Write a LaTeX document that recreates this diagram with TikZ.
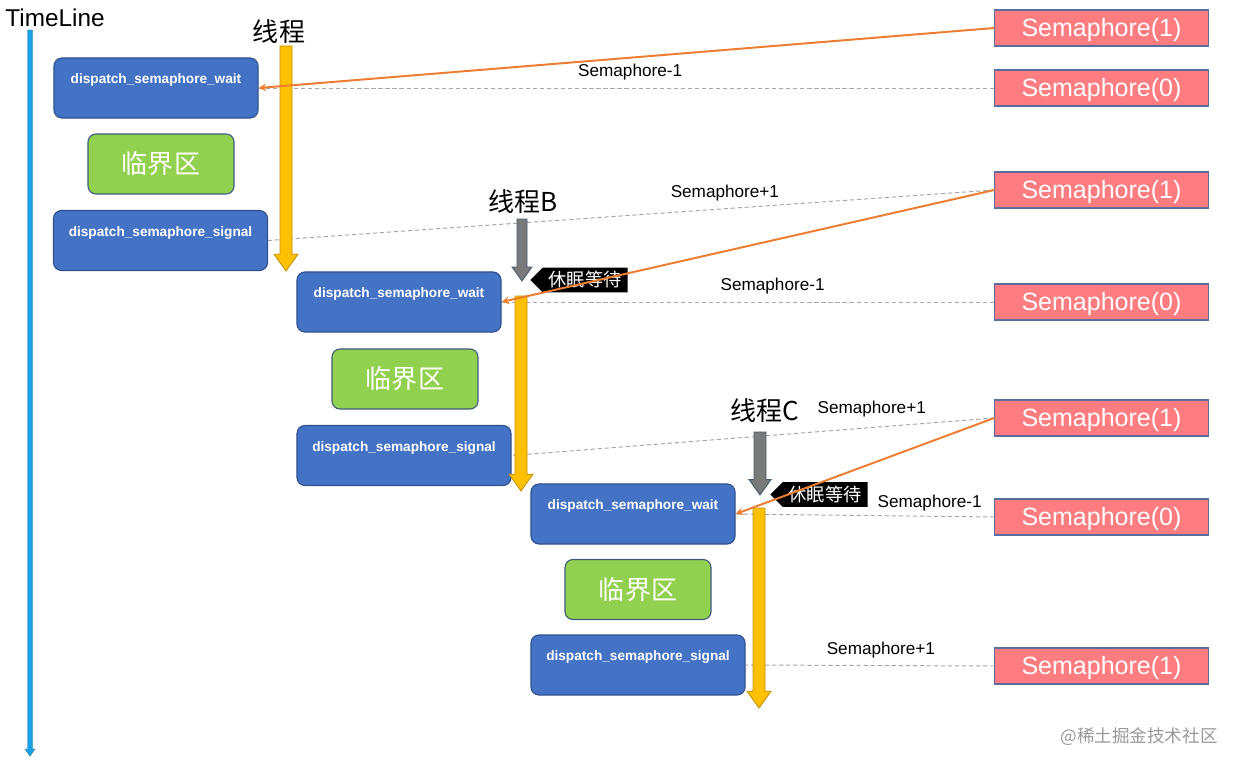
\documentclass[tikz,border=0pt]{standalone}
\usepackage{fontspec}
\setmainfont{Liberation Sans}
\newfontfamily\cjk{Noto Sans CJK SC}
\usepackage{tikz}
\usetikzlibrary{shapes, shapes.symbols, arrows}
\definecolor{callblue}{HTML}{4472C4}
\definecolor{calledge}{HTML}{2F528F}
\definecolor{critgreen}{HTML}{92D050}
\definecolor{critedge}{HTML}{3E5C7A}
\definecolor{semred}{HTML}{FF7C80}
\definecolor{semedge}{HTML}{5B6C9E}
\definecolor{takeorange}{HTML}{ED7D31}
\definecolor{dashgray}{HTML}{A6A6A6}
\definecolor{threadyellow}{HTML}{FFC000}
\definecolor{threadedge}{HTML}{C29200}
\definecolor{sleepgray}{HTML}{7A7A7A}
\definecolor{sleepedge}{HTML}{4A5A72}
\definecolor{timeblue}{HTML}{1BA1E2}
\tikzstyle{callbox} = [draw=calledge, fill=callblue, text=white, rounded corners=0.2cm, line width=0.8pt, minimum height=1.5cm, text height=7pt, text depth=13pt, font=\bfseries\fontsize{9.7}{11}\selectfont]
\tikzstyle{waitbox} = [callbox, minimum width=5.1cm]
\tikzstyle{signalbox} = [callbox, minimum width=5.35cm]
\tikzstyle{critbox} = [draw=critedge, fill=critgreen, text=white, rounded corners=0.2cm, line width=0.8pt, minimum width=3.65cm, minimum height=1.5cm, font=\cjk\fontsize{18.5}{20}\selectfont]
\tikzstyle{sembox} = [draw=semedge, fill=semred, text=white, line width=0.8pt, minimum width=5.33cm, minimum height=0.9cm, text height=12.6pt, text depth=0pt, font=\fontsize{17.8}{19}\selectfont]
\tikzstyle{sleeptag} = [signal, signal to=west, signal pointer angle=90, fill=black, text=white, minimum width=2.43cm, minimum height=0.62cm, inner sep=0pt, font=\cjk\fontsize{13}{14}\selectfont]
\tikzstyle{semline} = [draw=dashgray, line width=0.7pt, dash pattern=on 3pt off 2pt]
\tikzstyle{semlabel} = [font=\fontsize{12.2}{14}\selectfont]
\tikzstyle{takearrow} = [draw=takeorange, line width=1.4pt, -stealth]
\tikzstyle{threadtitle} = [font=\cjk\fontsize{18.5}{20}\selectfont]
% style, x, top, tip, half body, half head
\newcommand{\threadbar}[6]{%
  \filldraw[#1] ({#2-#5},#3) -- ({#2+#5},#3) -- ({#2+#5},{#4-1.4*#6}) -- ({#2+#6},{#4-1.4*#6})
    -- (#2,#4) -- ({#2-#6},{#4-1.4*#6}) -- ({#2-#5},{#4-1.4*#6}) -- cycle;}

\begin{document}
\begin{tikzpicture}[x=0.025cm, y=-0.025cm]
	\useasboundingbox (0,0) rectangle (1240,768);
	% calls of each thread
	\node [waitbox] (waitA) at (156,88) {dispatch\_semaphore\_wait};
	\node [critbox] (critA) at (161,164) {临界区};
	\node [signalbox] (signalA) at (160.5,240.5) {dispatch\_semaphore\_signal};
	\node [waitbox] (waitB) at (399,302) {dispatch\_semaphore\_wait};
	\node [critbox] (critB) at (405,379) {临界区};
	\node [signalbox] (signalB) at (404,455.5) {dispatch\_semaphore\_signal};
	\node [waitbox] (waitC) at (633,514) {dispatch\_semaphore\_wait};
	\node [critbox] (critC) at (638,589.5) {临界区};
	\node [signalbox] (signalC) at (638,665) {dispatch\_semaphore\_signal};
	% semaphore values
	\node [sembox] (semA1) at (1101.5,28) {Semaphore(1)};
	\node [sembox] (semA0) at (1101.5,88) {Semaphore(0)};
	\node [sembox] (semB1) at (1101.5,190) {Semaphore(1)};
	\node [sembox] (semB0) at (1101.5,302) {Semaphore(0)};
	\node [sembox] (semC1) at (1101.5,418) {Semaphore(1)};
	\node [sembox] (semC0) at (1101.5,517) {Semaphore(0)};
	\node [sembox] (semD1) at (1101.5,666) {Semaphore(1)};
	% dashed changes
	\draw [semline] (semA0.west) -- node[semlabel, pos=0.495, above=2pt] (lblA) {Semaphore-1} (waitA.east);
	\draw [semline] (semB1.west) -- node[semlabel, pos=0.371, above=1.5pt] (lblB) {Semaphore+1} (signalA.east);
	\draw [semline] (semB0.west) -- node[semlabel, pos=0.45, above=2pt] (lblC) {Semaphore-1} (waitB.east);
	\draw [semline] (semC1.west) -- node[semlabel, pos=0.254, above=4pt] (lblD) {Semaphore+1} (signalB.east);
	\draw [semline] (semC0.west) -- node[semlabel, pos=0.25, above=0pt] (lblE) {Semaphore-1} (waitC.east);
	\draw [semline] (semD1.west) -- node[semlabel, pos=0.456, above=2pt] (lblF) {Semaphore+1} (signalC.east);
	% timeline and threads
	\threadbar{fill=timeblue, draw=timeblue!80!black, line width=0.3pt}{30}{30}{756}{2.5}{5}
	\threadbar{fill=threadyellow, draw=threadedge, line width=0.6pt}{286}{46}{271}{6}{12}
	\threadbar{fill=threadyellow, draw=threadedge, line width=0.6pt}{521}{296}{491}{6}{12}
	\threadbar{fill=threadyellow, draw=threadedge, line width=0.6pt}{759}{508}{708}{6}{12}
	\threadbar{fill=sleepgray, draw=sleepedge, line width=0.6pt}{522}{219}{281}{5}{10}
	\threadbar{fill=sleepgray, draw=sleepedge, line width=0.6pt}{760}{432}{495}{6}{11}
	\node [sleeptag, anchor=west] (sleepB) at (530,280) {休眠等待};
	\node [sleeptag, anchor=west] (sleepC) at (770,494.5) {休眠等待};
	% taking the semaphore
	\draw [takearrow] (semA1.west) -- (waitA.east);
	\draw [takearrow] (semB1.west) -- (waitB.east);
	\draw [takearrow] (semC1.west) -- (waitC.east);
	% titles
	\node [font=\fontsize{17.3}{19}\selectfont] (timeline) at (55,18) {TimeLine};
	\node [threadtitle] (threadA) at (279,32) {线程};
	\node [threadtitle] (threadB) at (523,202) {线程B};
	\node [threadtitle] (threadC) at (765,411) {线程C};
	\node [font=\cjk\fontsize{12.5}{14}\selectfont, text=black!40] (mark) at (1139,737) {@稀土掘金技术社区};
\end{tikzpicture}
\end{document}
